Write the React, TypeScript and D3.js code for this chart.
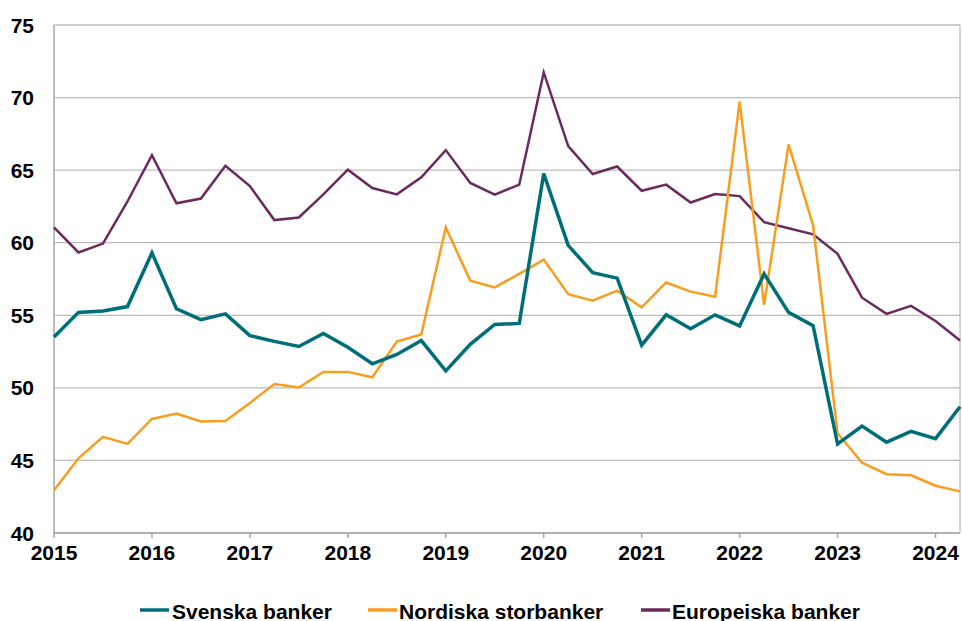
import React from "react";
import * as d3 from "d3";

const quarters: string[] = [];
for (let y = 2015; y <= 2024; y++) for (let q = 1; q <= 4; q++) quarters.push(`${y}Q${q}`);
const categories = quarters.slice(0, 38); // 2015Q1 .. 2024Q2

const svenska = [
  53.5, 55.2, 55.3, 55.6, 59.3, 55.45, 54.7, 55.1, 53.6, 53.2, 52.85, 53.75,
  52.8, 51.66, 52.3, 53.26, 51.17, 53.0, 54.37, 54.44, 64.76, 59.82, 57.93, 57.56,
  52.94, 55.03, 54.07, 55.03, 54.27, 57.85, 55.2, 54.29, 46.14, 47.37, 46.26, 47.0,
  46.5, 48.7,
];
const nordiska = [
  42.94, 45.15, 46.63, 46.14, 47.86, 48.23, 47.68, 47.71, 48.96, 50.26, 50.02, 51.1,
  51.1, 50.73, 53.19, 53.68, 61.05, 57.39, 56.92, 57.85, 58.84, 56.45, 56.01, 56.7,
  55.55, 57.26, 56.63, 56.28, 69.72, 55.72, 66.77, 61.2, 46.87, 44.84, 44.05, 43.98,
  43.26, 42.87,
];
const europeiska = [
  61.05, 59.33, 59.94, 62.84, 66.03, 62.72, 63.04, 65.3, 63.9, 61.56, 61.74, 63.33,
  65.03, 63.77, 63.33, 64.51, 66.38, 64.12, 63.31, 64.0, 71.73, 66.65, 64.73, 65.25,
  63.58, 64.0, 62.77, 63.36, 63.21, 61.42, 61.0, 60.58, 59.23, 56.21, 55.1, 55.65,
  54.61, 53.26,
];
const yTicks = [40, 45, 50, 55, 60, 65, 70, 75];
const xYears = [2015, 2016, 2017, 2018, 2019, 2020, 2021, 2022, 2023, 2024];
const seriesNames = ["Svenska banker", "Nordiska storbanker", "Europeiska banker"];
const seriesColors = ["#006E78", "#F99D1E", "#6B2A5E"];
const seriesWidths = [3.5, 2.5, 2.5];
const seriesData = [svenska, nordiska, europeiska];
const drawOrder = [2, 1, 0];

const W = 962, H = 621;
const left = 54, right = 960, top = 25, bottom = 533;
const FONT = "'Liberation Sans', Arial, sans-serif";

export default function App() {
  const x = d3.scaleLinear().domain([0, categories.length - 1]).range([left, right]);
  const y = d3.scaleLinear().domain([40, 75]).range([bottom, top]);
  const line = d3
    .line<number>()
    .x((_, i) => x(i))
    .y((d) => y(d));

  const legendItems = [
    { swatch: 140, text: 172 },
    { swatch: 368, text: 399 },
    { swatch: 641, text: 672 },
  ];

  return (
    <svg
      width={W}
      height={H}
      style={{ position: "absolute", left: 0, top: 0, background: "#fff" }}
      fontFamily={FONT}
    >
      {yTicks.map((t) => (
        <line key={t} x1={left} x2={right} y1={y(t)} y2={y(t)} stroke="#BDBDBD" strokeWidth={1.3} />
      ))}
      <line x1={right} x2={right} y1={top} y2={bottom} stroke="#BDBDBD" strokeWidth={1.3} />
      <line x1={left} x2={left} y1={top} y2={bottom + 1} stroke="#A6A6A6" strokeWidth={1.5} />
      <line x1={left} x2={right} y1={bottom} y2={bottom} stroke="#A6A6A6" strokeWidth={1.5} />
      {xYears.map((yr) => {
        const i = categories.indexOf(`${yr}Q1`);
        return (
          <g key={yr}>
            <line x1={x(i)} x2={x(i)} y1={bottom} y2={bottom + 5} stroke="#A6A6A6" strokeWidth={1.5} />
            <text x={x(i)} y={560} textAnchor="middle" fontSize={21} fontWeight="bold" fill="#000">
              {yr}
            </text>
          </g>
        );
      })}
      {yTicks.map((t) => (
        <text key={t} x={34} y={y(t) + 7.5} textAnchor="end" fontSize={21} fontWeight="bold" fill="#000">
          {t}
        </text>
      ))}
      {drawOrder.map((k) => (
        <path
          key={k}
          d={line(seriesData[k]) || ""}
          fill="none"
          stroke={seriesColors[k]}
          strokeWidth={seriesWidths[k]}
          strokeLinejoin="miter"
          strokeMiterlimit={4}
        />
      ))}
      {legendItems.map((it, k) => (
        <g key={k}>
          <line x1={it.swatch} x2={it.swatch + 29} y1={610} y2={610} stroke={seriesColors[k]} strokeWidth={3.5} />
          <text x={it.text} y={618.5} fontSize={21} fontWeight="bold" fill="#000">
            {seriesNames[k]}
          </text>
        </g>
      ))}
    </svg>
  );
}
